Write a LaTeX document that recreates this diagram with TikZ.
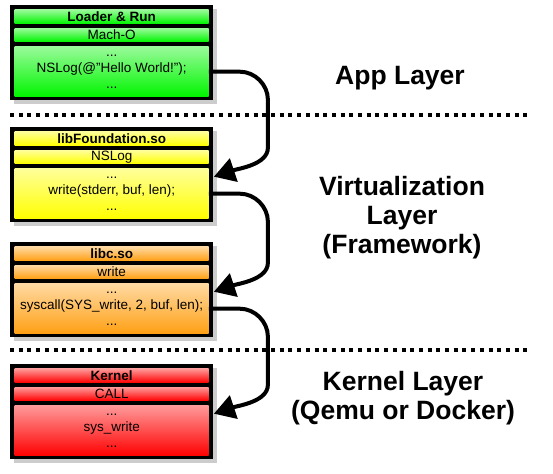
\documentclass[tikz,border=0pt]{standalone}
\usepackage{fontspec}
\setmainfont{Liberation Sans}
\usetikzlibrary{arrows.meta,positioning,calc}
\definecolor{appgreen}{RGB}{0,245,0}
\definecolor{fwyellow}{RGB}{255,255,0}
\definecolor{libcorange}{RGB}{255,160,20}
\definecolor{kernred}{RGB}{255,0,0}
\tikzset{
  frame/.style={fill=black, inner sep=0, anchor=north west, minimum width=203pt, minimum height=95pt},
  shadow/.style={fill=black!20},
  row/.style={inner sep=0, anchor=north west, minimum width=194pt, align=center,
    top color=#1!40!white, bottom color=#1, font=\fontsize{13.5}{16}\selectfont},
  title/.style={row=#1, minimum height=14pt, font=\fontsize{13.5}{14}\selectfont\bfseries},
  sub/.style={row=#1, minimum height=13.5pt},
  body/.style={row=#1, minimum height=50pt},
  link/.style={line width=4pt, -{Triangle[length=21pt,width=24pt]}},
  sep/.style={line width=4pt, dash pattern=on 4pt off 4.7pt},
  layer/.style={align=center, font=\fontsize{26.5}{29}\selectfont\bfseries}
}
\begin{document}
\begin{tikzpicture}[x=1pt,y=-1pt]
\useasboundingbox (0,0) rectangle (553,473);
% app layer
\fill[shadow] (14,9) rectangle (217,104);
\node[frame] (app) at (10,5) {};
\node[title=appgreen] (app-title) at (14.5,9.5) {Loader \& Run};
\node[sub=appgreen] (app-sub) at (14.5,28) {Mach-O};
\node[body=appgreen] (app-body) at (14.5,46.5) {...\\NSLog(@"Hello World!");\\...};
% libFoundation
\fill[shadow] (14,131) rectangle (217,226);
\node[frame] (fw) at (10,127) {};
\node[title=fwyellow] (fw-title) at (14.5,131.5) {libFoundation.so};
\node[sub=fwyellow] (fw-sub) at (14.5,150) {NSLog};
\node[body=fwyellow] (fw-body) at (14.5,168.5) {...\\write(stderr, buf, len);\\...};
% libc
\fill[shadow] (14,246) rectangle (217,341);
\node[frame] (libc) at (10,242) {};
\node[title=libcorange] (libc-title) at (14.5,246.5) {libc.so};
\node[sub=libcorange] (libc-sub) at (14.5,265) {write};
\node[body=libcorange] (libc-body) at (14.5,283.5) {...\\syscall(SYS\_write, 2, buf, len);\\...};
% kernel
\fill[shadow] (14,368) rectangle (217,463);
\node[frame] (kern) at (10,364) {};
\node[title=kernred] (kern-title) at (14.5,368.5) {Kernel};
\node[sub=kernred] (kern-sub) at (14.5,387) {CALL};
\node[body=kernred] (kern-body) at (14.5,405.5) {...\\sys\_write\\...};
% separators
\draw[sep] (10,115) -- (530,115);
\draw[sep] (10,350) -- (530,350);
% layer names
\node[layer] (app-name) at (400,78) {App Layer};
\node[layer] (fw-name) at (402,218) {Virtualization\\Layer\\(Framework)};
\node[layer] (kern-name) at (403,398) {Kernel Layer\\(Qemu or Docker)};
% calls
\draw[link] (app-body.east) -- ++(31,0) .. controls +(15,0) and +(0,-15) .. ++(28,28)
  -- ($(fw-body.east)+(59,-46)$) .. controls +(0,17) and +(24,-8) .. ($(fw-body.east)+(5,-17)$);
\draw[link] (fw-body.east) -- ++(31,0) .. controls +(15,0) and +(0,-15) .. ++(28,28)
  -- ($(libc-body.east)+(59,-46)$) .. controls +(0,17) and +(24,-8) .. ($(libc-body.east)+(5,-17)$);
\draw[link] (libc-body.east) -- ++(31,0) .. controls +(15,0) and +(0,-15) .. ++(28,28)
  -- ($(kern-body.east)+(59,-46)$) .. controls +(0,17) and +(24,-8) .. ($(kern-body.east)+(5,-17)$);
\end{tikzpicture}
\end{document}
